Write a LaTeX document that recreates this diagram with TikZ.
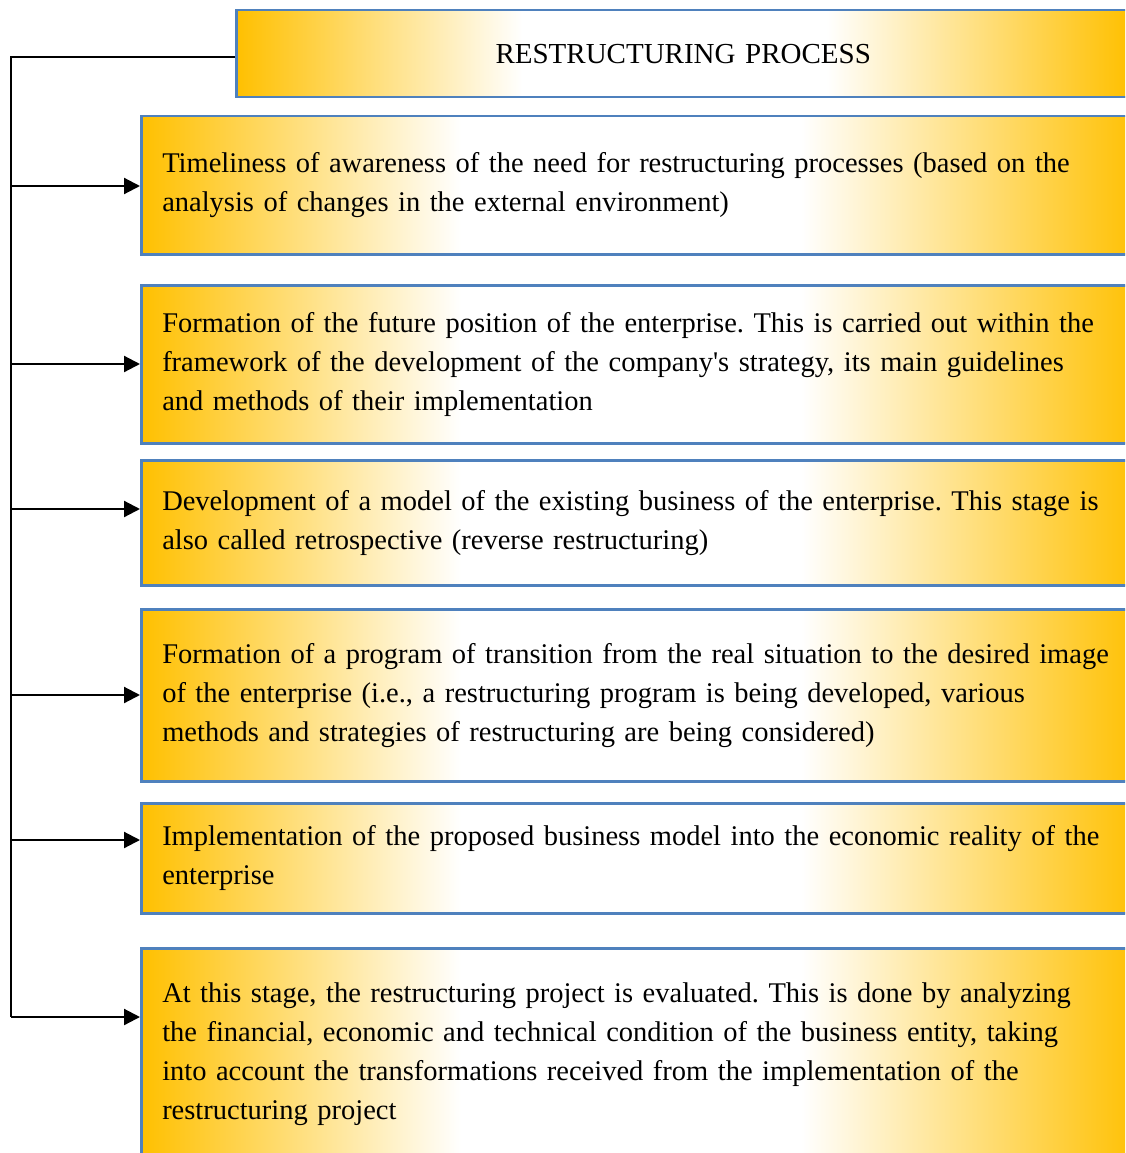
\documentclass[tikz,border=0pt]{standalone}
\usepackage{fontspec}
\setmainfont{Liberation Serif}
\usetikzlibrary{arrows.meta,positioning}
\definecolor{rsgold}{RGB}{255,192,0}
\definecolor{rsblue}{RGB}{79,129,189}
\pgfdeclarehorizontalshading{rsfade}{100bp}{color(0bp)=(rsgold); color(25bp)=(rsgold); color(41bp)=(white); color(58bp)=(white); color(75bp)=(rsgold); color(100bp)=(rsgold)}
\frenchspacing

\begin{document}
\begin{tikzpicture}[x=1pt, y=-1pt,
  stagebox/.style={rectangle, draw=rsblue, line width=2.5pt,
                   shading=rsfade, anchor=north west,
                   minimum width=1000pt, text width=958pt, inner xsep=21pt,
                   align=left, font=\fontsize{28.5}{39}\selectfont},
  headbox/.style={stagebox, minimum width=894pt, text width=852pt,
                  align=center, font=\fontsize{29}{34}\selectfont},
  spine/.style={line width=1.3pt, draw=black},
  feed/.style={-{Triangle[length=16pt, width=16pt]}, line width=2.2pt, draw=black}
]
\useasboundingbox (0,0) rectangle (1125,1153);
\clip (0,0) rectangle (1125,1153);

\node[headbox, minimum height=87pt]   (rp) at (235,9)   {RESTRUCTURING PROCESS};
\node[stagebox, minimum height=138pt] (s1) at (140,115) {Timeliness of awareness of the need for restructuring processes (based on the\\analysis of changes in the external environment)};
\node[stagebox, minimum height=158pt] (s2) at (140,284) {Formation of the future position of the enterprise. This is carried out within the\\framework of the development of the company\textquotesingle s strategy, its main guidelines\\and methods of their implementation};
\node[stagebox, minimum height=125pt] (s3) at (140,459) {Development of a model of the existing business of the enterprise. This stage is\\also called retrospective (reverse restructuring)};
\node[stagebox, minimum height=172pt] (s4) at (140,608) {Formation of a program of transition from the real situation to the desired image\\of the enterprise (i.e., a restructuring program is being developed, various\\methods and strategies of restructuring are being considered)};
\node[stagebox, minimum height=110pt] (s5) at (140,802) {Implementation of the proposed business model into the economic reality of the\\enterprise};
\node[stagebox, minimum height=212pt] (s6) at (140,947) {At this stage, the restructuring project is evaluated. This is done by analyzing\\the financial, economic and technical condition of the business entity, taking\\into account the transformations received from the implementation of the\\restructuring project};

\coordinate (top) at (11,57);
\coordinate (a1)  at (11,186);
\coordinate (a2)  at (11,364);
\coordinate (a3)  at (11,509);
\coordinate (a4)  at (11,695);
\coordinate (a5)  at (11,840);
\coordinate (a6)  at (11,1017);

\draw[spine] (rp.west |- top) -- (top) -- (a6);

\draw[feed] (a1) -- (a1 -| s1.west);
\draw[feed] (a2) -- (a2 -| s2.west);
\draw[feed] (a3) -- (a3 -| s3.west);
\draw[feed] (a4) -- (a4 -| s4.west);
\draw[feed] (a5) -- (a5 -| s5.west);
\draw[feed] (a6) -- (a6 -| s6.west);
\end{tikzpicture}
\end{document}
